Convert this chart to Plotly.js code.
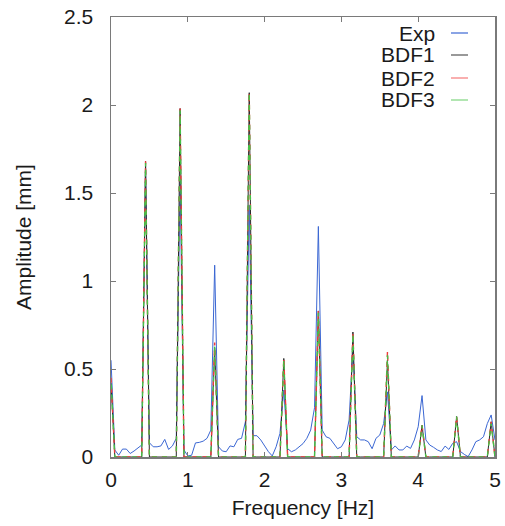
<!DOCTYPE html>
<html>
<head>
<meta charset="utf-8">
<script src="https://cdn.plot.ly/plotly-3.0.1.min.js"></script>
<style>
  html, body { margin: 0; padding: 0; background: #fff; }
  #chart { width: 505px; height: 526px; }
</style>
</head>
<body>
<div id="chart"></div>
<script>
const freq = [
  0.00,0.05,0.10,0.15,0.20,0.25,0.30,0.35,0.40,0.45,
  0.50,0.55,0.60,0.65,0.70,0.75,0.80,0.85,0.90,0.95,
  1.00,1.05,1.10,1.15,1.20,1.25,1.30,1.35,1.40,1.45,
  1.50,1.55,1.60,1.65,1.70,1.75,1.80,1.85,1.90,1.95,
  2.00,2.05,2.10,2.15,2.20,2.25,2.30,2.35,2.40,2.45,
  2.50,2.55,2.60,2.65,2.70,2.75,2.80,2.85,2.90,2.95,
  3.00,3.05,3.10,3.15,3.20,3.25,3.30,3.35,3.40,3.45,
  3.50,3.55,3.60,3.65,3.70,3.75,3.80,3.85,3.90,3.95,
  4.00,4.05,4.10,4.15,4.20,4.25,4.30,4.35,4.40,4.45,
  4.50,4.55,4.60,4.65,4.70,4.75,4.80,4.85,4.90,4.95,
  5.00
];

const expAmp = [
  0.55,0.04,0.01,0.045,0.045,0.02,0.034,0.05,0.068,1.66,
  0.081,0.058,0.058,0.063,0.10,0.043,0.063,0.106,1.57,0.04,
  0.006,0.01,0.08,0.083,0.09,0.106,0.153,1.09,0.058,0.034,
  0.03,0.063,0.058,0.10,0.106,0.20,1.43,0.121,0.121,0.097,
  0.063,0.03,0.006,0.058,0.134,0.38,0.047,0.03,0.04,0.058,
  0.076,0.106,0.153,0.28,1.31,0.153,0.115,0.106,0.076,0.047,
  0.058,0.097,0.21,0.62,0.115,0.097,0.097,0.087,0.047,0.106,
  0.125,0.19,0.37,0.04,0.063,0.04,0.04,0.062,0.049,0.097,
  0.172,0.349,0.097,0.068,0.055,0.04,0.031,0.062,0.043,0.078,
  0.087,0.031,0.015,0.002,0.04,0.087,0.097,0.115,0.19,0.239,
  0.097
];

const bdf1Amp = [
  0.42,0,0,0,0,0,0,0,0,1.68,
  0,0,0,0,0,0,0,0,1.98,0,
  0,0,0,0,0,0,0,0.62,0,0,
  0,0,0,0,0,0,2.07,0,0,0,
  0,0,0,0,0,0.56,0,0,0,0,
  0,0,0,0,0.83,0,0,0,0,0,
  0,0,0,0.71,0,0,0,0,0,0,
  0,0,0.55,0,0,0,0,0,0,0,
  0,0.18,0,0,0,0,0,0,0,0,
  0.23,0,0,0,0,0,0,0,0,0.20,
  0
];

const bdf2Amp = [
  0.45,0,0,0,0,0,0,0,0,1.68,
  0,0,0,0,0,0,0,0,1.98,0,
  0,0,0,0,0,0,0,0.65,0,0,
  0,0,0,0,0,0,2.07,0,0,0,
  0,0,0,0,0,0.56,0,0,0,0,
  0,0,0,0,0.83,0,0,0,0,0,
  0,0,0,0.71,0,0,0,0,0,0,
  0,0,0.60,0,0,0,0,0,0,0,
  0,0.18,0,0,0,0,0,0,0,0,
  0.23,0,0,0,0,0,0,0,0,0.20,
  0
];

const bdf3Amp = [
  0.44,0,0,0,0,0,0,0,0,1.67,
  0,0,0,0,0,0,0,0,1.97,0,
  0,0,0,0,0,0,0,0.63,0,0,
  0,0,0,0,0,0,2.07,0,0,0,
  0,0,0,0,0,0.55,0,0,0,0,
  0,0,0,0,0.82,0,0,0,0,0,
  0,0,0,0.70,0,0,0,0,0,0,
  0,0,0.58,0,0,0,0,0,0,0,
  0,0.18,0,0,0,0,0,0,0,0,
  0.23,0,0,0,0,0,0,0,0,0.19,
  0
];

const seriesNames = ["Exp", "BDF1", "BDF2", "BDF3"];
const xTickVals = [0, 1, 2, 3, 4, 5];
const yTickVals = [0, 0.5, 1, 1.5, 2, 2.5];

const colors = ["#3b67d3", "#2a2a2a", "#f03a3a", "#46c046"];
const legendColors = ["#3b67d3", "#555555", "#f57a7a", "#7fd67f"];
const widths = [1, 1, 1.4, 1.4];
const dashes = ["solid", "solid", "5px,5px", "0px,5px,5px,0px"];
const data = [expAmp, bdf1Amp, bdf2Amp, bdf3Amp];

const traces = data.map((ys, i) => ({
  type: "scatter",
  mode: "lines",
  x: freq,
  y: ys,
  name: seriesNames[i],
  line: { color: colors[i], width: widths[i], dash: dashes[i] },
  showlegend: false,
  hoverinfo: "x+y+name"
}));

const FONT = "Liberation Sans, Arial, Helvetica, sans-serif";
const L = 111, R = 10, T = 17, B = 69;
const W = 505, H = 526;
const pw = W - L - R, ph = H - T - B;

const legendTextRight = 437;
const legendLineX0 = 451, legendLineX1 = 468;
const legendY = [33, 55, 78, 100];

const annotations = seriesNames.map((n, i) => ({
  xref: "paper", yref: "paper",
  x: (legendTextRight - L) / pw,
  y: (H - B - legendY[i]) / ph,
  xanchor: "right", yanchor: "middle",
  text: n, showarrow: false,
  font: { family: FONT, size: 21, color: "#1a1a1a" }
}));

const shapes = seriesNames.map((n, i) => ({
  type: "line", xref: "paper", yref: "paper",
  x0: (legendLineX0 - L) / pw, x1: (legendLineX1 - L) / pw,
  y0: (H - B - legendY[i]) / ph, y1: (H - B - legendY[i]) / ph,
  line: { color: legendColors[i], width: 1.2 }
}));

const axisCommon = {
  showline: true, mirror: "ticks", linecolor: "#7a7a7a", linewidth: 1.5,
  ticks: "inside", ticklen: 5, tickcolor: "#7a7a7a", tickwidth: 1,
  showgrid: false, zeroline: false,
  tickfont: { family: FONT, size: 21, color: "#1a1a1a" },
  fixedrange: true
};

const layout = {
  width: W, height: H,
  margin: { l: L, r: R, t: T, b: B, pad: 0 },
  paper_bgcolor: "#fff", plot_bgcolor: "#fff",
  showlegend: false,
  font: { family: FONT, color: "#1a1a1a" },
  xaxis: Object.assign({}, axisCommon, {
    range: [0, 5], tickvals: xTickVals, ticktext: xTickVals.map(String),
    ticklabelstandoff: 3,
    title: { text: "Frequency [Hz]", font: { family: FONT, size: 21, color: "#1a1a1a" }, standoff: 10 }
  }),
  yaxis: Object.assign({}, axisCommon, {
    range: [0, 2.5], tickvals: yTickVals, ticktext: yTickVals.map(String),
    ticklabelstandoff: 12,
    title: { text: "Amplitude [mm]", font: { family: FONT, size: 21, color: "#1a1a1a" }, standoff: 26 }
  }),
  annotations: annotations,
  shapes: shapes
};

Plotly.newPlot("chart", traces, layout, { displayModeBar: false, staticPlot: true });
</script>
</body>
</html>
